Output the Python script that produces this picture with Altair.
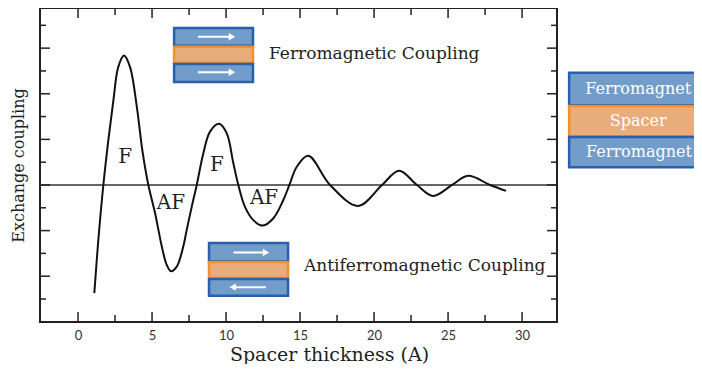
import altair as alt
import pandas as pd

# ---- curve ----
cx = [1.10, 1.37, 1.71, 2.05, 2.39, 2.72, 3.11, 3.51, 3.97, 4.34, 4.75, 5.20, 5.66, 5.99,
      6.28, 6.67, 7.11, 7.34, 7.68, 8.02, 8.47, 8.92, 9.53, 10.05, 10.49, 10.83, 11.28,
      11.84, 12.48, 13.20, 13.87, 14.28, 14.78, 15.56, 17.03, 18.92, 20.54, 21.69, 22.90,
      23.99, 25.27, 26.35, 27.84, 28.92]
cy = [-2.37, -1.21, 0.0, 0.99, 1.86, 2.59, 2.84, 2.59, 1.72, 0.77, 0.0, -0.61, -1.35, -1.75,
      -1.89, -1.79, -1.35, -0.99, -0.48, 0.0, 0.70, 1.17, 1.34, 1.13, 0.48, 0.0, -0.48,
      -0.77, -0.89, -0.73, -0.33, 0.0, 0.40, 0.64, 0.0, -0.46, 0.0, 0.31, 0.0,
      -0.24, 0.0, 0.20, 0.0, -0.13]

# ---- axes ----
x_labels = [0, 5, 10, 15, 20, 25, 30]
x_major = [0, 5, 10, 15, 20, 25, 30]
x_minor = [2.5, 7.5, 12.5, 17.5, 22.5, 27.5]
y_major = [-2, -1, 0, 1, 2, 3]
y_minor = [-2.5, -1.5, -0.5, 0.5, 1.5, 2.5, 3.5]

# ---- region labels ----
lab_text = ["F", "AF", "F", "AF"]
lab_x = [3.18, 6.28, 9.39, 12.57]
lab_y = [0.61, -0.39, 0.44, -0.29]

# ---- layer icons (rectangles) ----
rect_kind = ["fm", "sp", "fm", "fm", "sp", "fm", "fm", "sp", "fm"]
rect_x1 = [6.49, 6.49, 6.49, 8.85, 8.85, 8.85, 33.18, 33.18, 33.18]
rect_x2 = [11.82, 11.82, 11.82, 14.19, 14.19, 14.19, 42.3, 42.3, 42.3]
rect_y1 = [3.44, 3.03, 2.65, -1.27, -1.69, -2.06, 2.46, 1.73, 1.05]
rect_y2 = [3.05, 2.68, 2.26, -1.67, -2.04, -2.43, 1.75, 1.07, 0.39]

# ---- magnetisation arrows ----
arr_tail = [8.10, 8.10, 10.50, 12.70]
arr_tip = [10.40, 10.40, 12.70, 10.45]
arr_y = [3.25, 2.47, -1.48, -2.24]
arr_dir = ["right", "right", "right", "left"]

# ---- captions ----
cap_text = ["Ferromagnetic Coupling", "Antiferromagnetic Coupling"]
cap_x = [12.9, 15.27]
cap_y = [2.87, -1.78]

leg_text = ["Ferromagnet", "Spacer", "Ferromagnet"]
leg_x = [37.85, 37.85, 37.9]
leg_y = [2.10, 1.40, 0.72]

XDOM = [-2.57, 32.36]
YDOM = [-3.004, 3.88]
W, H = 517, 314
SERIF = "DejaVu Serif"

xs = alt.Scale(domain=XDOM, nice=False, zero=False)
ys = alt.Scale(domain=YDOM, nice=False, zero=False)

curve_df = pd.DataFrame({"x": cx, "y": cy})

base_axes = alt.Chart(curve_df).mark_line(
    interpolate="catmull-rom", color="#111", strokeWidth=2
).encode(
    x=alt.X("x:Q", scale=xs,
            axis=alt.Axis(values=x_labels, ticks=False, tickSize=0, domain=False, grid=False,
                          labelPadding=7, labelFont="Lato", labelFontSize=13, labelColor="#333",
                          title="Spacer thickness (A)", titleFont=SERIF, titleFontSize=19,
                          titleFontWeight="normal", titleColor="#222", titlePadding=3,
                          titleX=289, titleAlign="center")),
    y=alt.Y("y:Q", scale=ys,
            axis=alt.Axis(labels=False, ticks=False, tickSize=0, domain=False, grid=False,
                          title="Exchange coupling", titleFont=SERIF, titleFontSize=16,
                          titleFontWeight="normal", titleColor="#222", titlePadding=14)),
)

zero_line = alt.Chart(pd.DataFrame({"z": [0]})).mark_rule(color="#333", strokeWidth=1.5).encode(
    y=alt.Y("z:Q", scale=ys)
)

def xticks(vals, length):
    d = pd.DataFrame({"v": vals})
    bot = alt.Chart(d).mark_rule(color="#222", strokeWidth=1.5).encode(
        x=alt.X("v:Q", scale=xs), y=alt.value(H), y2=alt.value(H - length))
    top = alt.Chart(d).mark_rule(color="#222", strokeWidth=1.5).encode(
        x=alt.X("v:Q", scale=xs), y=alt.value(0), y2=alt.value(length))
    return bot + top

def yticks(vals, length):
    d = pd.DataFrame({"v": vals})
    lft = alt.Chart(d).mark_rule(color="#222", strokeWidth=1.5).encode(
        y=alt.Y("v:Q", scale=ys), x=alt.value(0), x2=alt.value(length))
    rgt = alt.Chart(d).mark_rule(color="#222", strokeWidth=1.5).encode(
        y=alt.Y("v:Q", scale=ys), x=alt.value(W), x2=alt.value(W - length))
    return lft + rgt

ticks = xticks(x_major, 10) + xticks(x_minor, 7) + yticks(y_major, 10) + yticks(y_minor, 6)

lab_df = pd.DataFrame({"t": lab_text, "x": lab_x, "y": lab_y})
labels = alt.Chart(lab_df).mark_text(font=SERIF, fontSize=20, color="#222").encode(
    x=alt.X("x:Q", scale=xs), y=alt.Y("y:Q", scale=ys), text="t:N")

rect_df = pd.DataFrame({"k": rect_kind, "x1": rect_x1, "x2": rect_x2, "y1": rect_y1, "y2": rect_y2})
rects = alt.Chart(rect_df).mark_rect(strokeWidth=2.5).encode(
    x=alt.X("x1:Q", scale=xs), x2="x2:Q",
    y=alt.Y("y1:Q", scale=ys), y2="y2:Q",
    fill=alt.Fill("k:N", scale=alt.Scale(domain=["fm", "sp"], range=["#729cc9", "#e9ad7b"]), legend=None),
    stroke=alt.Stroke("k:N", scale=alt.Scale(domain=["fm", "sp"], range=["#2a5fad", "#f0912f"]), legend=None),
)

arr_df = pd.DataFrame({"a": arr_tail, "b": arr_tip, "y": arr_y, "d": arr_dir})
shafts = alt.Chart(arr_df).mark_rule(color="white", strokeWidth=2).encode(
    x=alt.X("a:Q", scale=xs), x2="b:Q", y=alt.Y("y:Q", scale=ys))
heads = alt.Chart(arr_df).mark_point(filled=True, color="white", opacity=1, size=55).encode(
    x=alt.X("b:Q", scale=xs), y=alt.Y("y:Q", scale=ys),
    shape=alt.Shape("d:N", scale=alt.Scale(domain=["right", "left"], range=["triangle-right", "triangle-left"]), legend=None))

cap_df = pd.DataFrame({"t": cap_text, "x": cap_x, "y": cap_y})
caps = alt.Chart(cap_df).mark_text(font=SERIF, fontSize=17, color="#222", align="left").encode(
    x=alt.X("x:Q", scale=xs), y=alt.Y("y:Q", scale=ys), text="t:N")

leg_df = pd.DataFrame({"t": leg_text, "x": leg_x, "y": leg_y})
legs = alt.Chart(leg_df).mark_text(font=SERIF, fontSize=16, color="white").encode(
    x=alt.X("x:Q", scale=xs), y=alt.Y("y:Q", scale=ys), text="t:N")

chart = alt.layer(
    zero_line, base_axes, ticks, labels, rects, shafts, heads, caps, legs
).properties(
    width=W, height=H,
    autosize=alt.AutoSizeParams(type="none"),
    padding={"left": 32, "top": 0, "right": 137, "bottom": 42},
).configure_view(stroke="#222", strokeWidth=2)

chart.save("out.html", embed_options={"renderer": "svg", "actions": False})
